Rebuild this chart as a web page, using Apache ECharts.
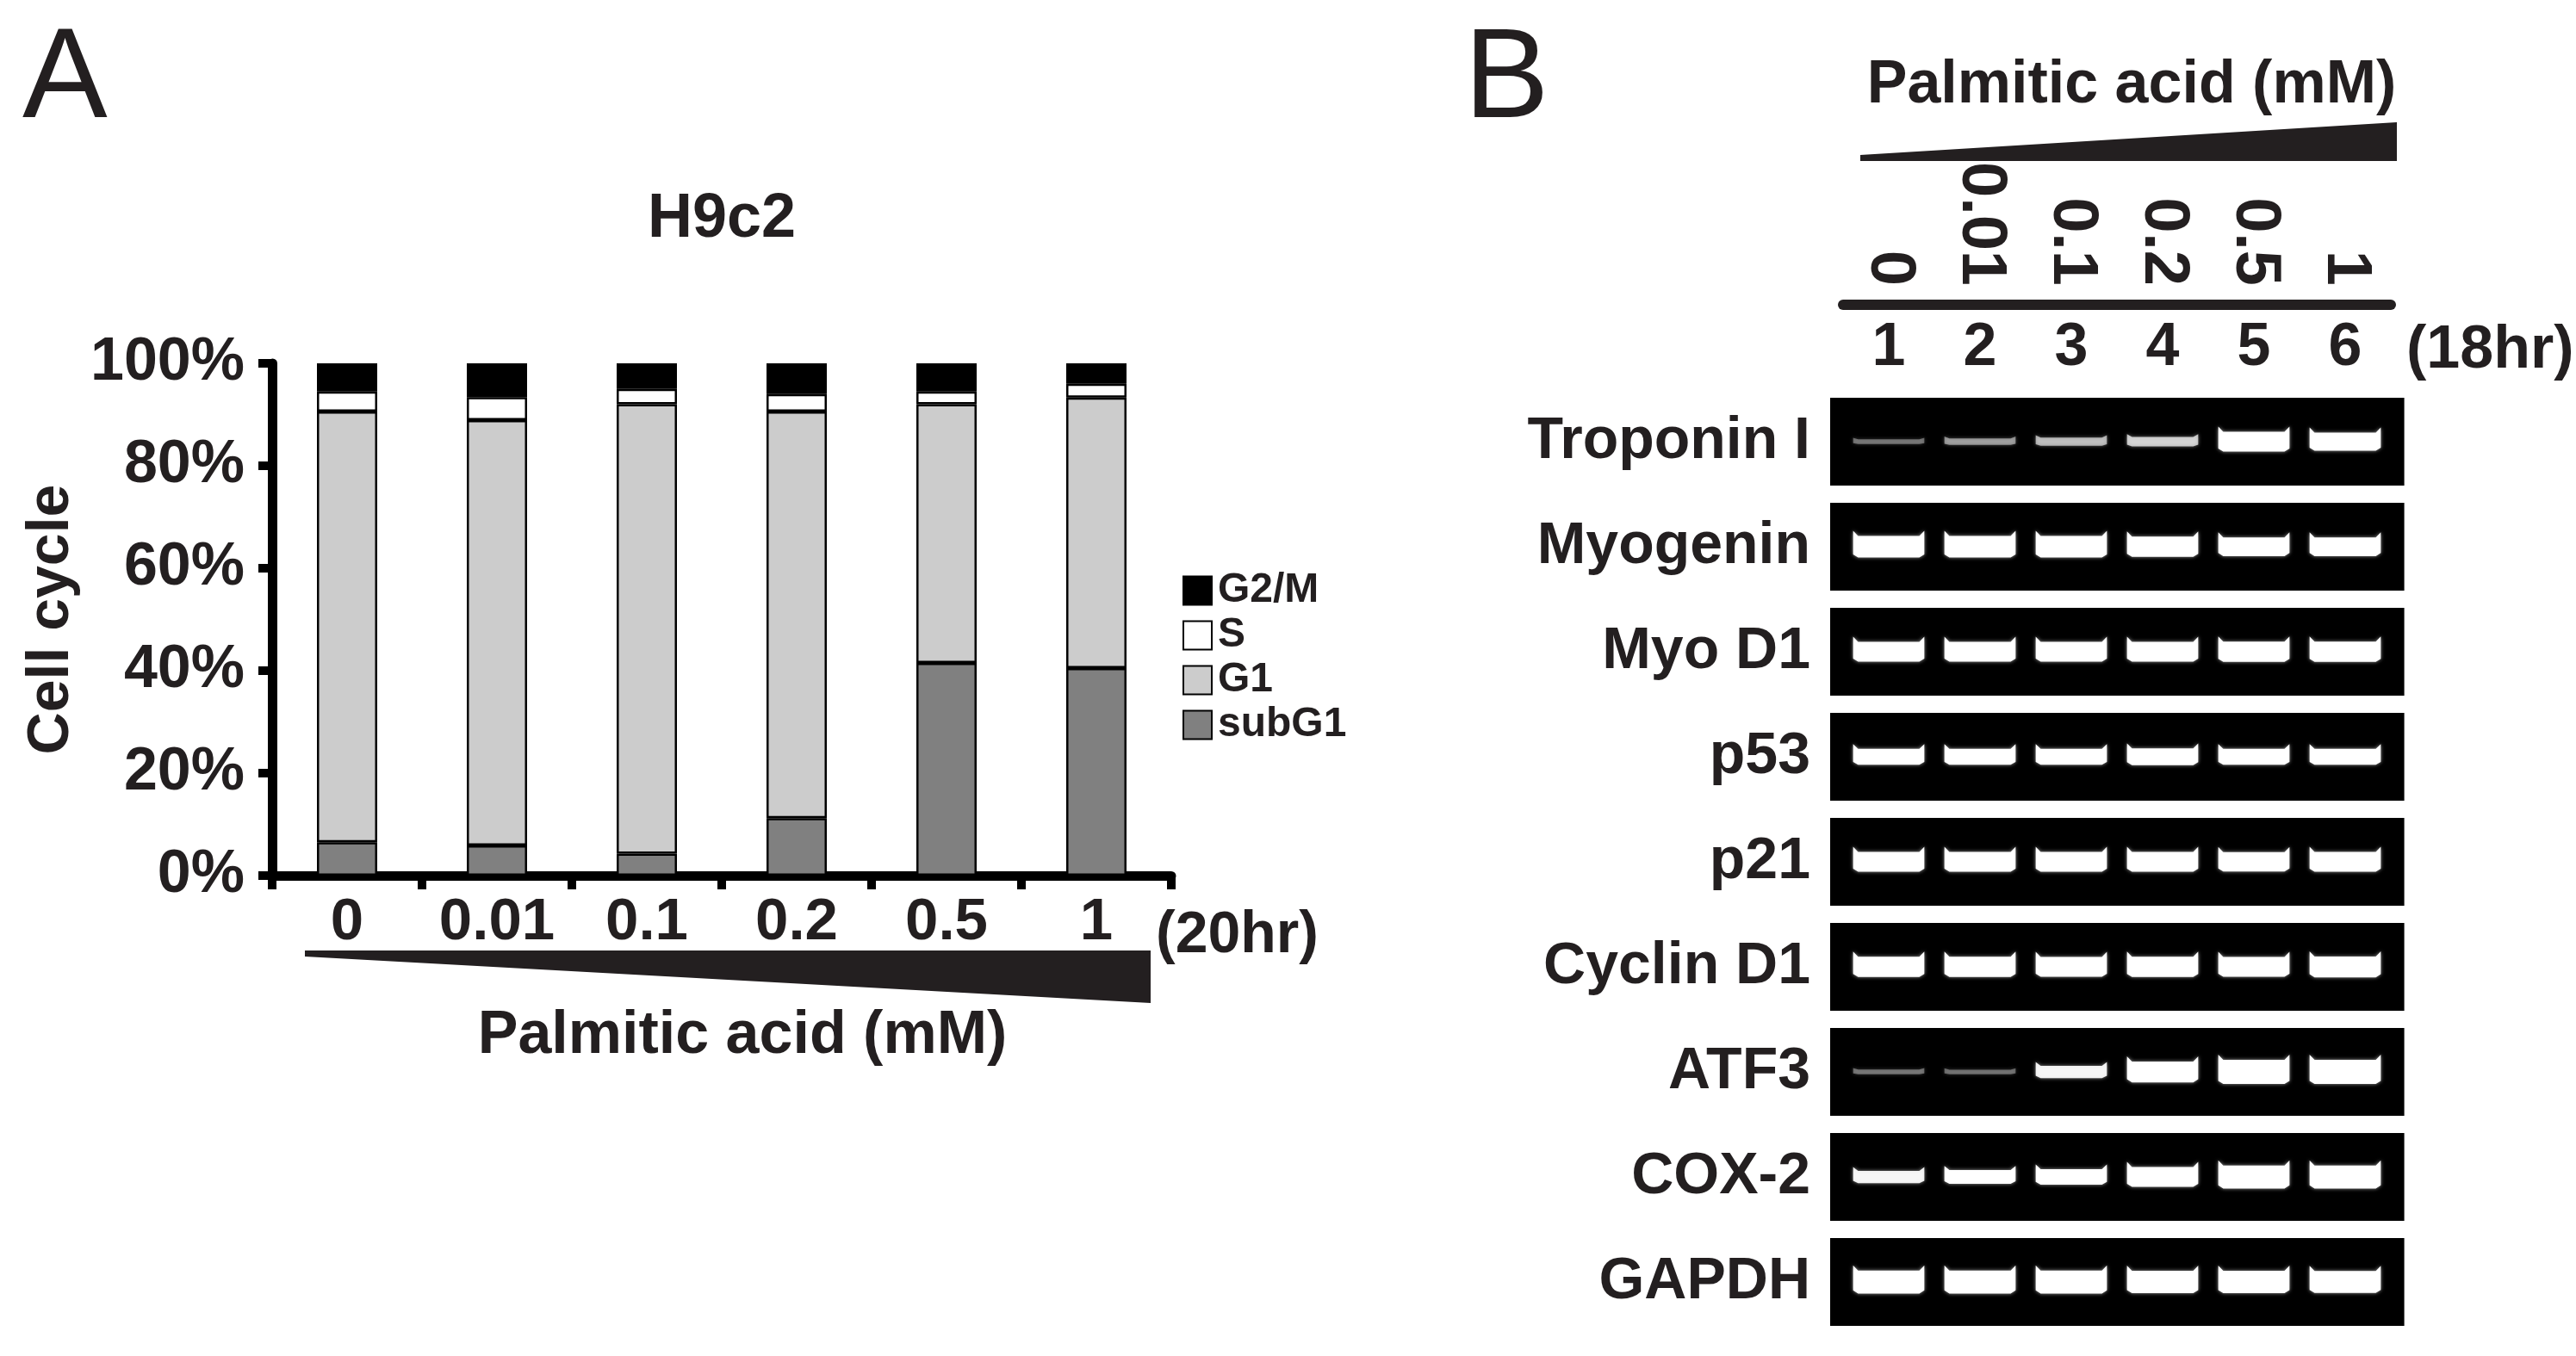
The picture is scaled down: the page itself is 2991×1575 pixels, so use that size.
<!DOCTYPE html>
<html><head><meta charset="utf-8">
<script src="https://cdn.jsdelivr.net/npm/echarts@6/dist/echarts.min.js"></script>
<style>html,body{margin:0;padding:0;background:#fff;}#c{width:2991px;height:1575px;}</style>
</head><body><div id="c"></div>
<script>
// ---- Panel A data (cell cycle distribution, % of cells) ----
const concentrations = ['0', '0.01', '0.1', '0.2', '0.5', '1'];
const subG1 = [6.5, 5.9, 4.3, 11.2, 41.5, 40.5];
const G1 = [84.1, 83.0, 87.7, 79.4, 50.5, 52.8];
const S = [3.9, 4.5, 3.0, 3.4, 2.5, 2.7];
const G2M = [5.5, 6.6, 5.0, 6.0, 5.5, 4.0];
const phaseNames = ['G2/M', 'S', 'G1', 'subG1'];

// ---- Panel B data (RT-PCR band strength, 0..1) ----
const lanes = ['1', '2', '3', '4', '5', '6'];
const genes = ['Troponin I', 'Myogenin', 'Myo D1', 'p53', 'p21', 'Cyclin D1', 'ATF3', 'COX-2', 'GAPDH'];
const troponinI = [0.10, 0.18, 0.26, 0.32, 0.80, 0.72];
const myogenin = [0.88, 0.88, 0.88, 0.82, 0.75, 0.75];
const myoD1 = [0.80, 0.80, 0.80, 0.80, 0.82, 0.82];
const p53 = [0.62, 0.62, 0.62, 0.66, 0.62, 0.62];
const p21 = [0.80, 0.80, 0.80, 0.80, 0.78, 0.80];
const cyclinD1 = [0.82, 0.82, 0.80, 0.82, 0.80, 0.85];
const atf3 = [0.10, 0.09, 0.45, 0.85, 1.00, 1.00];
const cox2 = [0.45, 0.52, 0.60, 0.80, 0.95, 0.95];
const gapdh = [0.95, 0.95, 0.95, 0.92, 0.92, 0.90];
const geneBands = [troponinI, myogenin, myoD1, p53, p21, cyclinD1, atf3, cox2, gapdh];

const FONT = "'Liberation Sans', Arial, Helvetica, sans-serif";
const INK = '#231f20';

const gelData = [];
geneBands.forEach((row, g) => row.forEach((v, l) => gelData.push([l, g, v])));

function renderGel(params, api) {
  const lane = api.value(0), gene = api.value(1), v = api.value(2);
  const p = api.coord([lane, gene]);
  const sz = api.size([1, 1]);
  const pad = 15;
  let x0 = p[0] - sz[0] / 2, x1 = p[0] + sz[0] / 2;
  if (lane === 0) x0 -= pad;
  if (lane === lanes.length - 1) x1 += pad;
  const panelH = sz[1] * 0.836;
  const w = sz[0] * 0.78;
  const h = 3 + 25 * v;
  const xl = p[0] - w / 2, xr = p[0] + w / 2;
  const yt = p[1] - h / 2, yb = p[1] + h / 2;
  const k = Math.min(6, h * 0.3);
  const e = w * 0.07;
  return {
    type: 'group',
    children: [
      { type: 'rect', shape: { x: x0, y: p[1] - panelH / 2, width: x1 - x0 + 0.6, height: panelH }, style: { fill: '#000' } },
      { type: 'polygon',
        shape: { points: [[xl, yt - k], [xl + e, yt], [xr - e, yt], [xr, yt - k], [xr, yb - k * 0.6], [xr - e, yb], [xl + e, yb], [xl, yb - k * 0.6]] },
        style: { fill: '#fff', opacity: Math.min(1, 0.2 + 1.6 * v), shadowBlur: 4, shadowColor: 'rgba(255,255,255,0.6)' } }
    ]
  };
}

const barBase = { type: 'bar', stack: 'cc', barWidth: 70, xAxisIndex: 0, yAxisIndex: 0,
  itemStyle: { borderColor: '#000', borderWidth: 2.5 } };

const txt = (text, x, y, size, weight, align) => ({
  type: 'text', x: x, y: y,
  style: { text: text, fill: INK, font: (weight || 'bold') + ' ' + size + 'px ' + FONT,
    align: align || 'left', verticalAlign: 'middle', textAlign: align || 'left', textVerticalAlign: 'middle' }
});

const option = {
  backgroundColor: '#fff',
  animation: false,
  textStyle: { fontFamily: FONT, color: INK },
  grid: [
    { left: 316, top: 422, width: 1044, height: 595, containLabel: false, outerBoundsMode: 'none' },
    { left: 2140, top: 452, width: 636, height: 1098, containLabel: false, outerBoundsMode: 'none' }
  ],
  legend: {
    orient: 'vertical', left: 1368, top: 657, itemWidth: 33, itemHeight: 33, itemGap: 4,
    data: phaseNames, icon: 'rect',
    textStyle: { fontSize: 48, fontWeight: 'bold', color: INK, fontFamily: FONT, padding: [0, 0, 0, 2] }
  },
  xAxis: [
    { type: 'category', gridIndex: 0, data: concentrations,
      axisLine: { lineStyle: { color: '#000', width: 11 } },
      axisTick: { show: true, interval: 0, alignWithLabel: false, length: 16, lineStyle: { color: '#000', width: 10 } },
      axisLabel: { interval: 0, fontSize: 69, fontWeight: 'bold', color: INK, margin: 20, fontFamily: FONT, hideOverlap: false } },
    { type: 'category', gridIndex: 1, position: 'top', data: lanes,
      axisLine: { show: false }, axisTick: { show: false },
      axisLabel: { interval: 0, fontSize: 70, fontWeight: 'bold', color: INK, margin: 12, fontFamily: FONT } },
    { type: 'category', gridIndex: 1, position: 'top', offset: 98, data: concentrations,
      axisLine: { show: true, lineStyle: { color: INK, width: 12 } }, axisTick: { show: false },
      axisLabel: { interval: 0, fontSize: 74, fontWeight: 'bold', color: INK, margin: 22, rotate: 90, fontFamily: FONT } }
  ],
  yAxis: [
    { type: 'value', gridIndex: 0, min: 0, max: 100, interval: 20,
      name: 'Cell cycle', nameLocation: 'middle', nameGap: 222, nameRotate: 90,
      nameTextStyle: { fontSize: 68, fontWeight: 'bold', color: INK, fontFamily: FONT },
      axisLine: { show: true, lineStyle: { color: '#000', width: 11 } },
      axisTick: { show: true, length: 16, lineStyle: { color: '#000', width: 10 } },
      splitLine: { show: false },
      axisLabel: { formatter: '{value}%', fontSize: 70, fontWeight: 'bold', color: INK, margin: 32, fontFamily: FONT } },
    { type: 'category', gridIndex: 1, data: genes, inverse: true,
      axisLine: { show: false }, axisTick: { show: false }, splitLine: { show: false },
      axisLabel: { interval: 0, fontSize: 68, fontWeight: 'bold', color: INK, margin: 38, fontFamily: FONT } }
  ],
  series: [
    Object.assign({}, barBase, { name: 'subG1', data: subG1, itemStyle: Object.assign({}, barBase.itemStyle, { color: '#808080' }) }),
    Object.assign({}, barBase, { name: 'G1', data: G1, itemStyle: Object.assign({}, barBase.itemStyle, { color: '#cccccc' }) }),
    Object.assign({}, barBase, { name: 'S', data: S, itemStyle: Object.assign({}, barBase.itemStyle, { color: '#ffffff' }) }),
    Object.assign({}, barBase, { name: 'G2/M', data: G2M, itemStyle: Object.assign({}, barBase.itemStyle, { color: '#000000' }) }),
    { type: 'custom', name: 'gel', xAxisIndex: 1, yAxisIndex: 1, data: gelData, renderItem: renderGel, silent: true }
  ],
  graphic: [
    txt('A', 26, 95, 148, 'normal'),
    txt('B', 1700, 95, 148, 'normal'),
    txt('H9c2', 838, 255, 72, 'bold', 'center'),
    txt('(20hr)', 1342, 1087, 68),
    txt('Palmitic acid (mM)', 862, 1204, 70, 'bold', 'center'),
    txt('Palmitic acid (mM)', 2475, 100, 70, 'bold', 'center'),
    txt('(18hr)', 2794, 408, 70),
    { type: 'polygon', shape: { points: [[354, 1104], [1336, 1104], [1336, 1165], [354, 1111]] }, style: { fill: INK } },
    { type: 'polygon', shape: { points: [[2160, 180], [2783, 142], [2783, 187], [2160, 187]] }, style: { fill: INK } }
  ]
};

const chart = echarts.init(document.getElementById('c'), null, { renderer: 'canvas' });
chart.setOption(option);
</script>
</body></html>
